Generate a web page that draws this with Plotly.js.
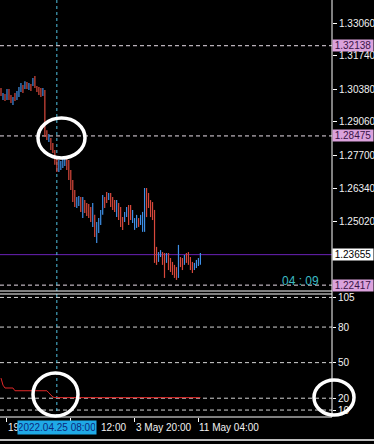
<!DOCTYPE html>
<html><head><meta charset="utf-8">
<script src="https://cdn.plot.ly/plotly-3.0.1.min.js"></script>
<style>html,body{margin:0;padding:0;background:#000;}#chart{width:374px;height:444px;}</style>
</head><body><div id="chart"></div>
<script>
// GBPUSD H4 bars, 18 Apr 16:00 .. 11 May 08:00
const opens  = [1.3038,1.3000,1.3016,1.2996,1.3034,1.3000,1.2980,1.3020,1.2996,1.3010,1.3030,1.3052,1.3040,1.3064,1.3038,1.3056,1.3052,1.3080,1.3048,1.3040,1.3036,1.3014,1.3030,1.2866,1.2828,1.2835,1.2812,1.2786,1.2752,1.2708,1.2714,1.2722,1.2730,1.2754,1.2744,1.2704,1.2660,1.2620,1.2560,1.2568,1.2596,1.2520,1.2584,1.2570,1.2566,1.2552,1.2490,1.2520,1.2420,1.2470,1.2492,1.2535,1.2596,1.2616,1.2590,1.2612,1.2594,1.2582,1.2525,1.2570,1.2552,1.2512,1.2502,1.2522,1.2560,1.2560,1.2500,1.2470,1.2480,1.2510,1.2490,1.2465,1.2470,1.2630,1.2610,1.2582,1.2574,1.2540,1.2390,1.2340,1.2360,1.2372,1.2366,1.2336,1.2368,1.2346,1.2330,1.2318,1.2310,1.2276,1.2352,1.2346,1.2328,1.2368,1.2370,1.2350,1.2330,1.2306,1.2314,1.2322,1.2346];
const highs  = [1.3042,1.3022,1.3018,1.3038,1.3038,1.3014,1.3006,1.3022,1.3030,1.3046,1.3062,1.3054,1.3070,1.3066,1.3062,1.3058,1.3083,1.3091,1.3050,1.3046,1.3042,1.3042,1.3034,1.2871,1.2855,1.2839,1.2819,1.2790,1.2758,1.2750,1.2746,1.2754,1.2762,1.2758,1.2750,1.2709,1.2669,1.2628,1.2600,1.2604,1.2600,1.2600,1.2587,1.2575,1.2571,1.2559,1.2575,1.2527,1.2498,1.2514,1.2547,1.2608,1.2600,1.2620,1.2616,1.2616,1.2600,1.2587,1.2587,1.2575,1.2559,1.2518,1.2539,1.2559,1.2567,1.2567,1.2547,1.2514,1.2527,1.2514,1.2527,1.2539,1.2636,1.2636,1.2616,1.2587,1.2579,1.2547,1.2397,1.2376,1.2384,1.2376,1.2372,1.2372,1.2372,1.2352,1.2336,1.2324,1.2315,1.2405,1.2356,1.2352,1.2364,1.2372,1.2376,1.2356,1.2336,1.2332,1.2344,1.2352,1.2372];
const lows   = [1.3010,1.2993,1.2989,1.2993,1.2993,1.2981,1.2973,1.2989,1.2993,1.3006,1.3026,1.3022,1.3038,1.3038,1.3034,1.3030,1.3050,1.3042,1.3026,1.3014,1.3006,1.3010,1.2843,1.2831,1.2823,1.2790,1.2778,1.2730,1.2701,1.2701,1.2709,1.2717,1.2725,1.2709,1.2669,1.2628,1.2579,1.2559,1.2555,1.2563,1.2539,1.2514,1.2535,1.2522,1.2514,1.2498,1.2478,1.2437,1.2413,1.2453,1.2486,1.2527,1.2555,1.2575,1.2587,1.2559,1.2547,1.2539,1.2518,1.2506,1.2478,1.2466,1.2498,1.2518,1.2486,1.2506,1.2494,1.2466,1.2474,1.2478,1.2486,1.2458,1.2458,1.2518,1.2555,1.2518,1.2506,1.2332,1.2324,1.2336,1.2356,1.2324,1.2271,1.2332,1.2303,1.2295,1.2283,1.2271,1.2263,1.2271,1.2315,1.2303,1.2324,1.2332,1.2324,1.2303,1.2291,1.2303,1.2311,1.2319,1.2324];
const closes = [1.3015,1.3018,1.2995,1.3032,1.2999,1.2985,1.3002,1.2995,1.3026,1.3042,1.3058,1.3028,1.3066,1.3042,1.3058,1.3034,1.3078,1.3048,1.3030,1.3020,1.3012,1.3036,1.2852,1.2838,1.2850,1.2796,1.2782,1.2736,1.2706,1.2744,1.2740,1.2750,1.2758,1.2714,1.2674,1.2634,1.2585,1.2565,1.2596,1.2600,1.2545,1.2594,1.2540,1.2528,1.2520,1.2504,1.2568,1.2444,1.2490,1.2508,1.2540,1.2600,1.2560,1.2580,1.2612,1.2565,1.2552,1.2544,1.2582,1.2512,1.2484,1.2470,1.2534,1.2554,1.2492,1.2512,1.2542,1.2510,1.2522,1.2482,1.2522,1.2534,1.2630,1.2524,1.2560,1.2524,1.2512,1.2340,1.2330,1.2372,1.2380,1.2330,1.2276,1.2368,1.2308,1.2300,1.2288,1.2276,1.2268,1.2398,1.2320,1.2308,1.2360,1.2336,1.2328,1.2308,1.2295,1.2328,1.2340,1.2348,1.23655];
// indicator values per bar
const indicator = [37,31,28.6,28.6,28.6,28.6,28.6,26.3,26.3,26.3,26.3,26.3,26.3,26.3,26.3,26.3,26.3,26.3,26.3,26.3,26.3,26.3,26.3,26.3,24.5,22.8,21,20.5,20.5,20.5,20.5,20.5,20.5,20.5,20.5,20.5,20.5,20.5,20.5,20.5,20.5,20.5,20.5,20.5,20.5,20.5,20.5,20.5,20.5,20.5,20.5,20.5,20.5,20.5,20.5,20.5,20.5,20.5,20.5,20.5,20.5,20.5,20.5,20.5,20.5,20.5,20.5,20.5,20.5,20.5,20.5,20.5,20.5,20.5,20.5,20.5,20.5,20.5,20.5,20.5,20.5,20.5,20.5,20.5,20.5,20.5,20.5,20.5,20.5,20.5,20.5,20.5,20.5,20.5,20.5,20.5,20.5,20.5,20.5,20.5,20.5];

const priceTicks = [1.33060, 1.31740, 1.30380, 1.29060, 1.27700, 1.26340, 1.25020];
const levelLines = [1.32138, 1.28475, 1.22417];
const bidPrice = 1.23655;
const indLevels = [105, 80, 50, 20, 10];
const timeTickIdx = [3, 35, 67, 99];
// visible parts of the time labels (the crosshair box hides the rest)
const timeTickText = ['19', '12:00', '3 May 20:00', '11 May 04:00'];
const timeTextIdx = [3, 49.5, 67, 99];
const crossIdx = 28;
const crossLabel = '2022.04.25 08:00';
const timerText = '04 : 09';

const idx = opens.map((_, i) => i);
const FONT = 'Liberation Sans, Arial, sans-serif';
const WHITE = '#f2f2f2';

const traces = [
  {type: 'ohlc', x: idx, open: opens, high: highs, low: lows, close: closes,
   tickwidth: 0, xaxis: 'x', yaxis: 'y', hoverinfo: 'skip',
   increasing: {line: {color: '#3f8fe6', width: 1.2}},
   decreasing: {line: {color: '#d8483c', width: 1.2}}},
  {type: 'scatter', mode: 'lines', x: idx, y: indicator, xaxis: 'x', yaxis: 'y2',
   line: {color: '#e02828', width: 1}, hoverinfo: 'skip'}
];

const PH = 417, PW = 332;
const py = v => 1 - v / PH;
const px = v => v / PW;

const shapes = [];
levelLines.forEach(v => shapes.push({type: 'line', xref: 'paper', x0: 0, x1: 1, yref: 'y', y0: v, y1: v,
  line: {color: '#e8dde8', width: 1, dash: '4px,3px'}, layer: 'below'}));
shapes.push({type: 'line', xref: 'paper', x0: 0, x1: 1, yref: 'y', y0: bidPrice, y1: bidPrice,
  line: {color: '#6a22b8', width: 1}, layer: 'below'});
indLevels.forEach(v => shapes.push({type: 'line', xref: 'paper', x0: 0, x1: 1, yref: 'y2', y0: v, y1: v,
  line: {color: '#d4d4d4', width: 1, dash: '4px,3px'}, layer: 'below'}));
shapes.push({type: 'line', xref: 'x', x0: crossIdx, x1: crossIdx, yref: 'paper', y0: 0, y1: 1,
  line: {color: '#4fc0e0', width: 1, dash: '3px,3px'}, layer: 'below'});
// panel borders
[py(291), py(294), 0].forEach(a => shapes.push({type: 'line', xref: 'paper', x0: 0, x1: 1, yref: 'paper', y0: a, y1: a,
  line: {color: '#ffffff', width: 1}}));
shapes.push({type: 'line', xref: 'paper', x0: 1, x1: 1, yref: 'paper', y0: 0, y1: 1, line: {color: '#ffffff', width: 1}});
shapes.push({type: 'line', xref: 'paper', x0: 0, x1: px(374), yref: 'paper', y0: py(440), y1: py(440), line: {color: '#ffffff', width: 1.5}});
// hand-drawn circles
[[38, 85, 118, 158], [33, 78, 373, 416], [314, 354, 380, 415]].forEach(c => shapes.push({type: 'circle',
  xref: 'paper', yref: 'paper', x0: px(c[0]), x1: px(c[1]), y0: py(c[3]), y1: py(c[2]),
  line: {color: '#ffffff', width: 3.5}}));

const annotations = [];
levelLines.forEach(v => annotations.push({xref: 'paper', x: 1, xanchor: 'left', yref: 'y', y: v, yanchor: 'middle',
  text: v.toFixed(5), showarrow: false, bgcolor: '#dba2dc', width: 40, height: 11, borderpad: 0,
  font: {family: FONT, size: 10, color: '#3a1448'}}));
annotations.push({xref: 'paper', x: 1, xanchor: 'left', yref: 'y', y: bidPrice, yanchor: 'middle',
  text: bidPrice.toFixed(5), showarrow: false, bgcolor: '#ffffff', width: 40, height: 11, borderpad: 0,
  font: {family: FONT, size: 10, color: '#000000'}});
annotations.push({xref: 'paper', x: px(321), xanchor: 'right', yref: 'paper', y: py(281), yanchor: 'middle',
  text: timerText, showarrow: false, font: {family: FONT, size: 12, color: '#3cbcc4'}});
timeTickText.forEach((t, i) => annotations.push({xref: 'x', x: timeTextIdx[i], xanchor: 'left', xshift: -1, yref: 'paper', y: py(427), yanchor: 'middle',
  text: t, showarrow: false, font: {family: FONT, size: 10, color: WHITE}}));
annotations.push({xref: 'x', x: crossIdx, xanchor: 'center', yref: 'paper', y: py(427), yanchor: 'middle',
  text: crossLabel, showarrow: false, bgcolor: '#1fa9e6', borderpad: 1, width: 76, height: 11,
  font: {family: FONT, size: 10, color: '#0c2a7c'}});

const layout = {
  width: 374, height: 444,
  margin: {l: 0, r: 42, t: 0, b: 27, pad: 0},
  paper_bgcolor: '#000000', plot_bgcolor: '#000000',
  showlegend: false,
  font: {family: FONT, size: 10, color: WHITE},
  xaxis: {range: [-0.5, 166], anchor: 'y2', showgrid: false, zeroline: false, showline: false,
    showticklabels: false, ticks: 'outside', ticklen: 4, tickcolor: '#ffffff', tickvals: timeTickIdx,
    rangeslider: {visible: false}, fixedrange: true},
  yaxis: {domain: [py(291), 1], range: [1.22179, 1.33994], side: 'right', showgrid: false, zeroline: false,
    showline: false, ticks: 'outside', ticklen: 4, tickcolor: '#ffffff', tickvals: priceTicks,
    ticktext: priceTicks.map(v => v.toFixed(5)), tickfont: {family: FONT, size: 10, color: WHITE}},
  yaxis2: {domain: [0, py(294)], range: [4.15, 107.89], side: 'right', showgrid: false, zeroline: false,
    showline: false, ticks: 'outside', ticklen: 3, tickcolor: '#ffffff', tickvals: indLevels,
    ticktext: indLevels.map(String), tickfont: {family: FONT, size: 10, color: WHITE}},
  shapes: shapes,
  annotations: annotations
};

Plotly.newPlot('chart', traces, layout, {displayModeBar: false, staticPlot: true});
</script></body></html>
